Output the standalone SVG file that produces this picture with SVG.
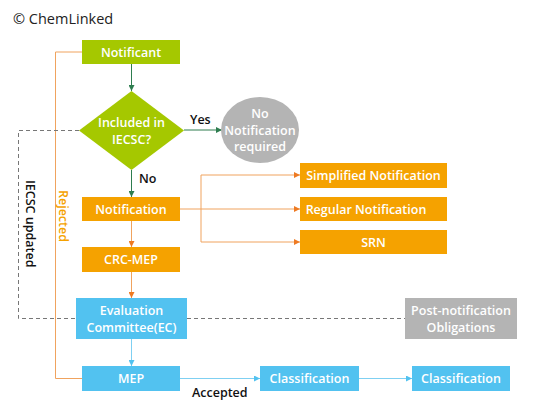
<svg xmlns="http://www.w3.org/2000/svg" width="536" height="415" viewBox="0 0 536 415">
<defs>
<style>
.t{font-family:"Open Sans","Liberation Sans",sans-serif;font-size:12.5px;font-weight:600;fill:#fff;text-anchor:middle}
.lbl{font-family:"Open Sans","Liberation Sans",sans-serif;font-size:12.5px;font-weight:600;fill:#111}
.g{fill:#a5c800}
.o{fill:#f5a200}
.b{fill:#52c2f0}
.gr{fill:#b4b4b4}
.lg{stroke:#2e7d4f;stroke-width:1;fill:none}
.lo{stroke:#f0a35e;stroke-width:1;fill:none}
.lb{stroke:#7fd0f2;stroke-width:1;fill:none}
.ld{stroke:#777;stroke-width:1;stroke-dasharray:4 3;fill:none}
</style>
<marker id="ag" viewBox="0 0 6 6" refX="6" refY="3" markerWidth="6" markerHeight="6" orient="auto" markerUnits="userSpaceOnUse"><path d="M0,0L6,3L0,6z" fill="#2e7d4f"/></marker>
<marker id="ao" viewBox="0 0 6 6" refX="6" refY="3" markerWidth="6" markerHeight="6" orient="auto" markerUnits="userSpaceOnUse"><path d="M0,0L6,3L0,6z" fill="#ee7a22"/></marker>
<marker id="ab" viewBox="0 0 6 6" refX="6" refY="3" markerWidth="6" markerHeight="6" orient="auto" markerUnits="userSpaceOnUse"><path d="M0,0L6,3L0,6z" fill="#52c2f0"/></marker>
</defs>
<rect width="536" height="415" fill="#fff"/>
<text x="13" y="24" font-family="'Open Sans','Liberation Sans',sans-serif" font-size="14.5" fill="#222">© ChemLinked</text>

<g id="connectors">
<path class="lg" d="M131.5,64V91" marker-end="url(#ag)"/>
<path class="lg" d="M184,130H222" marker-end="url(#ag)"/>
<path class="lg" d="M131.5,170V197" marker-end="url(#ag)"/>
<path class="lo" d="M180,209H300" marker-end="url(#ao)"/>
<path class="lo" d="M201,175H300" marker-end="url(#ao)"/>
<path class="lo" d="M201,175V242H300" marker-end="url(#ao)"/>
<path class="lo" d="M131.5,221V247" marker-end="url(#ao)"/>
<path class="lo" d="M131.5,272V298" marker-end="url(#ao)"/>
<path class="lb" d="M131.5,339V366" marker-end="url(#ab)"/>
<path class="lb" d="M180,378.5H260" marker-end="url(#ab)"/>
<path class="lb" d="M359,378.5H412" marker-end="url(#ab)"/>
<path class="lo" d="M82,378.5H55.5V52H82"/>
<path class="ld" d="M79,130.5H18.5V318.5H76"/>
<path class="ld" d="M187,318.5H405"/>
<text class="lbl" x="190" y="124">Yes</text>
<text class="lbl" x="139" y="183">No</text>
<text class="lbl" x="192" y="397">Accepted</text>
<text class="lbl" x="0" y="0" fill="#f5a200" style="fill:#f5a200" transform="translate(59,190) rotate(90)">Rejected</text>
<text class="lbl" x="0" y="0" transform="translate(26,180) rotate(90)">IECSC updated</text>
</g>

<g id="notificant"><rect class="g" x="82" y="40" width="98" height="24"/><text class="t" x="131" y="57">Notificant</text></g>
<g id="iecsc"><path class="g" d="M131.5,91L184,130.5L131.5,170L79,130.5z"/><text class="t" x="131.5" y="127">Included in</text><text class="t" x="131.5" y="144">IECSC?</text></g>
<g id="no-notification"><ellipse class="gr" cx="260" cy="130" rx="39" ry="33"/><text class="t" x="260" y="118">No</text><text class="t" x="260" y="134.5">Notification</text><text class="t" x="260" y="151">required</text></g>
<g id="notification"><rect class="o" x="82" y="197" width="98" height="24"/><text class="t" x="131" y="213.5">Notification</text></g>
<g id="simplified"><rect class="o" x="300" y="163" width="147" height="25"/><text class="t" x="373.5" y="180">Simplified Notification</text></g>
<g id="regular"><rect class="o" x="300" y="197" width="147" height="24"/><text class="t" x="366" y="213.5">Regular Notification</text></g>
<g id="srn"><rect class="o" x="300" y="230" width="147" height="24"/><text class="t" x="373.5" y="246.5">SRN</text></g>
<g id="crc-mep"><rect class="o" x="82" y="247" width="98" height="25"/><text class="t" x="131" y="264">CRC-MEP</text></g>
<g id="ec"><rect class="b" x="76" y="298" width="111" height="41"/><text class="t" x="131.5" y="315">Evaluation</text><text class="t" x="131.5" y="332">Committee(EC)</text></g>
<g id="post"><rect class="gr" x="405" y="298" width="112" height="41"/><text class="t" x="461" y="315">Post-notification</text><text class="t" x="461" y="332">Obligations</text></g>
<g id="mep"><rect class="b" x="82" y="366" width="98" height="25"/><text class="t" x="131" y="383">MEP</text></g>
<g id="classification1"><rect class="b" x="260" y="366" width="99" height="25"/><text class="t" x="309.5" y="383">Classification</text></g>
<g id="classification2"><rect class="b" x="412" y="366" width="98" height="25"/><text class="t" x="461" y="383">Classification</text></g>
</svg>
